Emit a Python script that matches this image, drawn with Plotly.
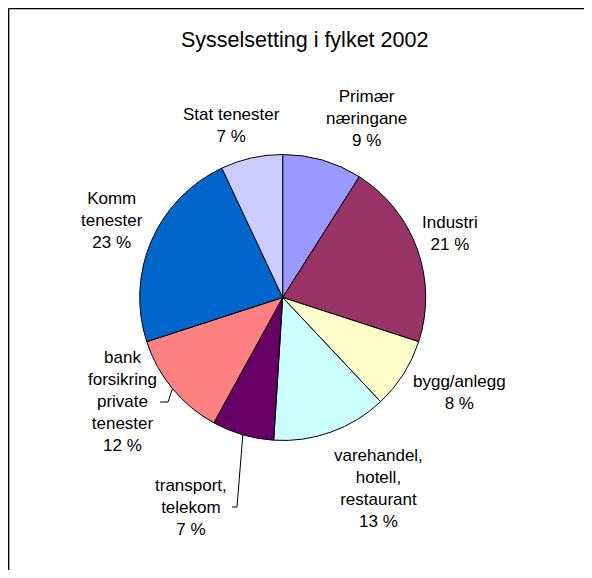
import math
import plotly.graph_objects as go

# ---- data ----
categories = ["Primær<br>næringane", "Industri", "bygg/anlegg",
              "varehandel,<br>hotell,<br>restaurant", "transport,<br>telekom",
              "bank<br>forsikring<br>private<br>tenester", "Komm<br>tenester",
              "Stat tenester"]
shares = [9, 21, 8, 13, 7, 12, 23, 7]
colors = ["#9999FF", "#993366", "#FFFFCC", "#CCFFFF", "#660066",
          "#FF8080", "#0066CC", "#CCCCFF"]

# ---- layout constants (page pixels; the page body adds an 8px offset) ----
OFF = 8
W, H = 576, 562
CX, CY, R = 282.7, 297.5, 143.0
# text block centres for each label
label_pos = [(366, 118), (450, 233), (459, 392), (378, 488),
             (191, 507), (122, 401), (112, 220), (231, 125)]
# leader lines: index -> (label-side end x, bend x, y)
leaders = {4: (232, 237, 507), 5: (160, 168, 402)}


def px(x):
    return (x - OFF) / W


def py(y):
    return 1 - (y - OFF) / H


fig = go.Figure()
fig.add_trace(go.Pie(
    labels=categories, values=shares, sort=False, direction="clockwise",
    rotation=0, textinfo="none", hoverinfo="label+percent",
    marker=dict(colors=colors, line=dict(color="black", width=1)),
    domain=dict(x=[px(CX - R), px(CX + R)], y=[py(CY + R), py(CY - R)]),
    showlegend=False,
))

total = sum(shares)
annotations = []
shapes = []
cum = 0
for i, (cat, v) in enumerate(zip(categories, shares)):
    pct = round(100 * v / total)
    lx, ly = label_pos[i]
    annotations.append(dict(
        x=px(lx), y=py(ly), xref="paper", yref="paper",
        text=f"{cat}<br>{pct} %", showarrow=False, align="center",
        xanchor="center", yanchor="middle",
        font=dict(family="Liberation Sans, Arial", size=17, color="black"),
    ))
    mid = (cum + v / 2) / total * 2 * math.pi
    cum += v
    if i in leaders:
        ex, bx, yy = leaders[i]
        pxp = CX + R * math.sin(mid)
        pyp = CY - R * math.cos(mid)
        path = (f"M {px(ex)} {py(yy)} L {px(bx)} {py(yy)} "
                f"L {px(pxp)} {py(pyp)}")
        shapes.append(dict(type="line", x0=px(ex), y0=py(yy), x1=px(bx),
                           y1=py(yy), xref="paper", yref="paper",
                           line=dict(color="black", width=1)))
        shapes.append(dict(type="line", x0=px(bx), y0=py(yy), x1=px(pxp),
                           y1=py(pyp), xref="paper", yref="paper",
                           line=dict(color="black", width=1)))

# chart-area border: only the left and top edges fall inside the picture
bx0, by0 = px(8.6), py(8.6)
shapes.append(dict(type="line", xref="paper", yref="paper",
                   x0=bx0, x1=bx0, y0=0, y1=by0,
                   line=dict(color="black", width=1.5)))
shapes.append(dict(type="line", xref="paper", yref="paper",
                   x0=bx0, x1=px(600), y0=by0, y1=by0,
                   line=dict(color="black", width=1.5)))

annotations.append(dict(
    x=px(304), y=py(40), xref="paper", yref="paper",
    text="Sysselsetting i fylket 2002", showarrow=False,
    xanchor="center", yanchor="middle",
    font=dict(family="Liberation Sans, Arial", size=21.5, color="black"),
))

fig.update_layout(
    width=W, height=H, margin=dict(l=0, r=0, t=0, b=0),
    paper_bgcolor="white", plot_bgcolor="white",
    annotations=annotations, shapes=shapes,
)
fig.write_html("out.html")
